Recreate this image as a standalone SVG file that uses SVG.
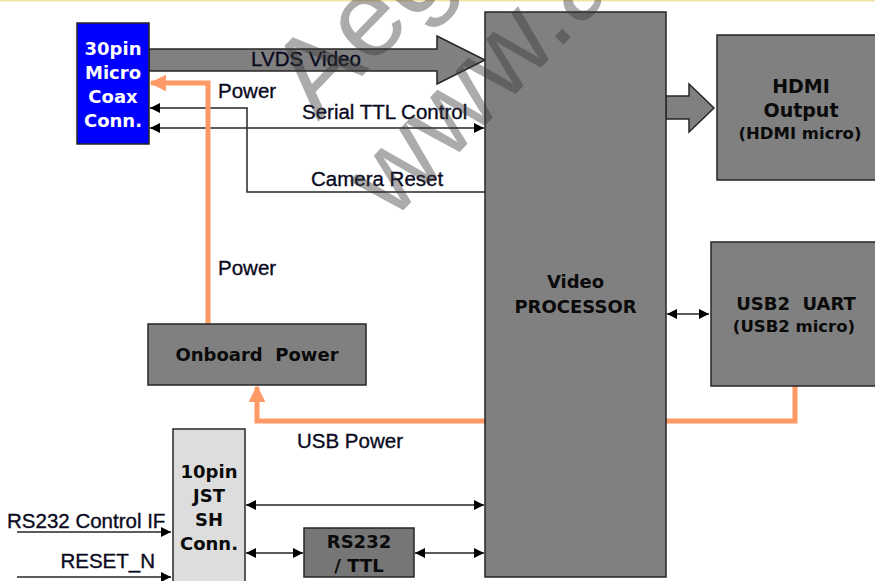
<svg xmlns="http://www.w3.org/2000/svg" width="875" height="581" viewBox="0 0 875 581">
<style>
.box{fill:#808080;stroke:#262626;stroke-width:1.5}
.lbl{font-family:"Liberation Sans",Arial,sans-serif;font-size:20.5px;fill:#0a0a1e;stroke:#0a0a1e;stroke-width:0.35}
.bt{font-family:"DejaVu Sans",Verdana,sans-serif;font-weight:bold;font-size:18px;fill:#0a0a0a;text-anchor:middle}
.bs{font-size:16.5px}
.wt{font-family:"DejaVu Sans",Verdana,sans-serif;font-weight:bold;font-size:18px;fill:#ffffff;text-anchor:middle}
.ln{fill:none;stroke:#262626;stroke-width:1.5}
.pw{fill:none;stroke:#FF9966;stroke-width:5}
.wm{font-family:"Liberation Sans",Arial,sans-serif;font-size:112px;fill:#363636;fill-opacity:0.42}
</style>
<defs>
<marker id="ah" viewBox="0 0 10 10" refX="10" refY="5" markerWidth="11" markerHeight="10" markerUnits="userSpaceOnUse" orient="auto-start-reverse">
<path d="M0,0 L10,5 L0,10 z" fill="#000"/>
</marker>
<marker id="oh" viewBox="0 0 10 10" refX="9" refY="5" markerWidth="17" markerHeight="18" markerUnits="userSpaceOnUse" orient="auto">
<path d="M0,0 L10,5 L0,10 z" fill="#FF9966"/>
</marker>
</defs>
<rect x="0" y="0" width="875" height="581" fill="#ffffff"/>
<rect x="0" y="0" width="875" height="1.5" fill="#F2E2A8"/>

<text class="lbl" x="7" y="528">RS232 Control IF</text>
<text class="lbl" x="155" y="568" text-anchor="end">RESET_N</text>

<g id="connectors">
<polygon points="149,49 437,49 437,36 485,60 437,84 437,71 149,71" fill="#808080" stroke="#262626" stroke-width="1.5"/>
<polygon points="666,96 689,96 689,84 714,108 689,132 689,119 666,119" fill="#808080" stroke="#262626" stroke-width="1.5"/>
<path class="ln" d="M485,192 H247 V108 H150" marker-end="url(#ah)"/>
<path class="ln" d="M150,128 H484" marker-start="url(#ah)" marker-end="url(#ah)"/>
<path class="ln" d="M667,314 H709" marker-start="url(#ah)" marker-end="url(#ah)"/>
<path class="ln" d="M246,505 H484" marker-start="url(#ah)" marker-end="url(#ah)"/>
<path class="ln" d="M246,553 H303" marker-start="url(#ah)" marker-end="url(#ah)"/>
<path class="ln" d="M415,553 H484" marker-start="url(#ah)" marker-end="url(#ah)"/>
<path class="ln" d="M17,532 H171" marker-end="url(#ah)"/>
<path class="ln" d="M17,577 H171" marker-end="url(#ah)"/>
<path class="pw" d="M208,324 V83 H151" marker-end="url(#oh)"/>
<path class="pw" d="M485,421 H257 V387" marker-end="url(#oh)"/>
<path class="pw" d="M666,421 H795 V386"/>
<text class="lbl" x="306" y="66" text-anchor="middle">LVDS Video</text>
<text class="lbl" x="218" y="98">Power</text>
<text class="lbl" x="302" y="119">Serial TTL Control</text>
<text class="lbl" x="311" y="186">Camera Reset</text>
<text class="lbl" x="218" y="275">Power</text>
<text class="lbl" x="297" y="448">USB Power</text>
</g>

<g id="coax">
<rect x="77" y="23" width="72" height="121" fill="#0000FF" stroke="#262626" stroke-width="1.5"/>
<text class="wt" x="113" y="55">30pin</text>
<text class="wt" x="113" y="79">Micro</text>
<text class="wt" x="113" y="103">Coax</text>
<text class="wt" x="113" y="127">Conn.</text>
</g>

<g id="processor">
<rect class="box" x="485" y="12" width="181" height="565"/>
<text class="bt" x="575.5" y="288">Video</text>
<text class="bt" x="575.5" y="313">PROCESSOR</text>
</g>

<g id="hdmi">
<rect class="box" x="717" y="35" width="162" height="145"/>
<text class="bt" x="801" y="93" style="font-size:19px">HDMI</text>
<text class="bt" x="801" y="117" style="font-size:19px">Output</text>
<text class="bt bs" x="800" y="139">(HDMI micro)</text>
</g>

<g id="usb2uart">
<rect class="box" x="711" y="242" width="168" height="144"/>
<text class="bt" x="796" y="310">USB2&#160; UART</text>
<text class="bt bs" x="794" y="332">(USB2 micro)</text>
</g>

<g id="onboard-power">
<rect class="box" x="148" y="324" width="218" height="61"/>
<text class="bt" x="257" y="361">Onboard&#160; Power</text>
</g>

<g id="jst">
<rect x="173" y="429" width="72" height="160" fill="#DDDDDD" stroke="#262626" stroke-width="1.5"/>
<text class="bt" x="209" y="478">10pin</text>
<text class="bt" x="209" y="502">JST</text>
<text class="bt" x="209" y="526">SH</text>
<text class="bt" x="209" y="550">Conn.</text>
</g>

<g id="rs232">
<rect x="304" y="528" width="110" height="49" fill="#767676" stroke="#262626" stroke-width="1.5"/>
<text class="bt" x="359" y="548">RS232</text>
<text class="bt" x="359" y="572">/ TTL</text>
</g>

<g id="watermark">
<text class="wm" transform="translate(318,122) rotate(-46)">Aeg</text>
<text class="wm" transform="translate(392,222) rotate(-46)">www.a</text>
</g>
</svg>
